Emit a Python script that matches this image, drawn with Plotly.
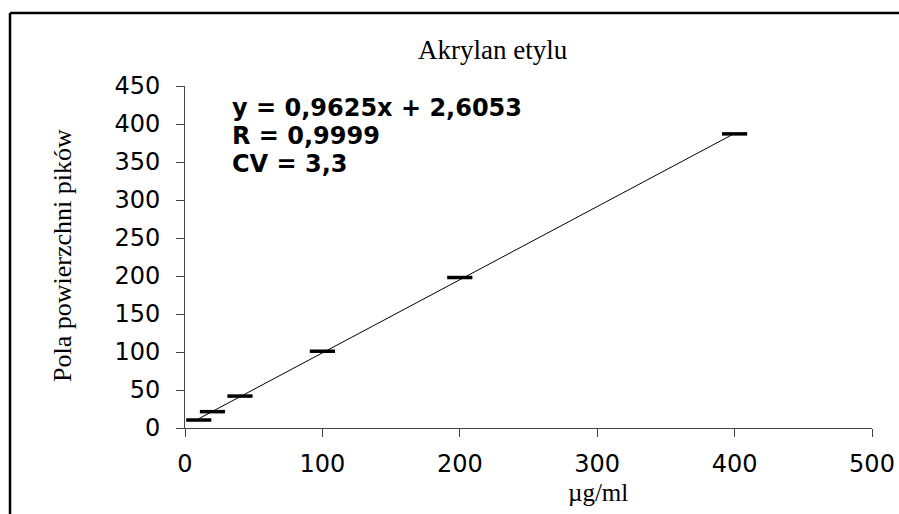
import plotly.graph_objects as go

# Data
conc = [10, 20, 40, 100, 200, 400]
area = [10.5, 21.5, 42, 101, 198, 387]
slope = 0.9625
intercept = 2.6053
fit_x = [10, 400]
fit_y = [slope * v + intercept for v in fit_x]
x_ticks = [0, 100, 200, 300, 400, 500]
y_ticks = [0, 50, 100, 150, 200, 250, 300, 350, 400, 450]
title_text = "Akrylan etylu"
x_title = "µg/ml"
y_title = "Pola powierzchni pików"
eq_lines = ["y = 0,9625x + 2,6053", "R = 0,9999", "CV = 3,3"]

OFF = 0  # body margin removed below
W, H = 899, 514
L, T = 185 - OFF, 86 - OFF
R = W - (872 - OFF)
B = H - (428 - OFF)
pw, ph = W - L - R, H - T - B


def px(xp):
    return (xp - OFF - L) / pw


def py(yp):
    return (H - B - (yp - OFF)) / ph


fig = go.Figure()
fig.add_trace(go.Scatter(x=fit_x, y=fit_y, mode="lines",
                         line=dict(color="black", width=1), showlegend=False,
                         hoverinfo="skip"))
fig.add_trace(go.Scatter(x=conc, y=area, mode="markers",
                         marker=dict(symbol="line-ew", size=18,
                                     line=dict(color="black", width=3.5)),
                         showlegend=False))

axis_col = "#444444"
fig.update_xaxes(range=[0, 500], tickvals=x_ticks, showgrid=False, zeroline=False,
                 showline=True, linecolor=axis_col, linewidth=1,
                 ticks="outside", ticklen=8, tickcolor=axis_col, tickwidth=1,
                 ticklabelstandoff=6, automargin=False,
                 tickfont=dict(family="DejaVu Sans", size=24, color="black"))
fig.update_yaxes(range=[0, 450], tickvals=y_ticks, showgrid=False, zeroline=False,
                 showline=True, linecolor=axis_col, linewidth=1,
                 ticks="outside", ticklen=8, tickcolor=axis_col, tickwidth=1,
                 ticklabelstandoff=11, automargin=False,
                 tickfont=dict(family="DejaVu Sans", size=24, color="black"))

annotations = [
    dict(text=title_text, x=px(493), y=py(50), xref="paper", yref="paper",
         xanchor="center", yanchor="middle", showarrow=False,
         font=dict(family="Liberation Serif", size=27, color="black")),
    dict(text=x_title, x=px(598), y=py(492), xref="paper", yref="paper",
         xanchor="center", yanchor="middle", showarrow=False,
         font=dict(family="Liberation Serif", size=25, color="black")),
    dict(text=y_title, x=px(62), y=py(256), xref="paper", yref="paper",
         xanchor="center", yanchor="middle", showarrow=False, textangle=-90,
         font=dict(family="Liberation Serif", size=26, color="black")),
]
for i, line in enumerate(eq_lines):
    annotations.append(dict(text="<b>" + line + "</b>", x=px(230), y=py(108 + 28 * i),
                            xref="paper", yref="paper", xanchor="left", yanchor="middle",
                            showarrow=False,
                            font=dict(family="DejaVu Sans", size=24, color="black")))

border = dict(color="black", width=2.5)
fig.update_layout(
    width=W, height=H,
    margin=dict(l=L, r=R, t=T, b=B),
    paper_bgcolor="white", plot_bgcolor="white",
    annotations=annotations,
    shapes=[
        dict(type="line", xref="paper", yref="paper",
             x0=px(10), y0=py(13), x1=px(905), y1=py(13), line=border, layer="above"),
        dict(type="line", xref="paper", yref="paper",
             x0=px(10), y0=py(13), x1=px(10), y1=py(520), line=border, layer="above"),
    ],
)

fig.write_html("out.html",
               config={"displayModeBar": False},
               post_script="document.body.style.margin='0px';"
                           "document.body.style.overflow='hidden';")
